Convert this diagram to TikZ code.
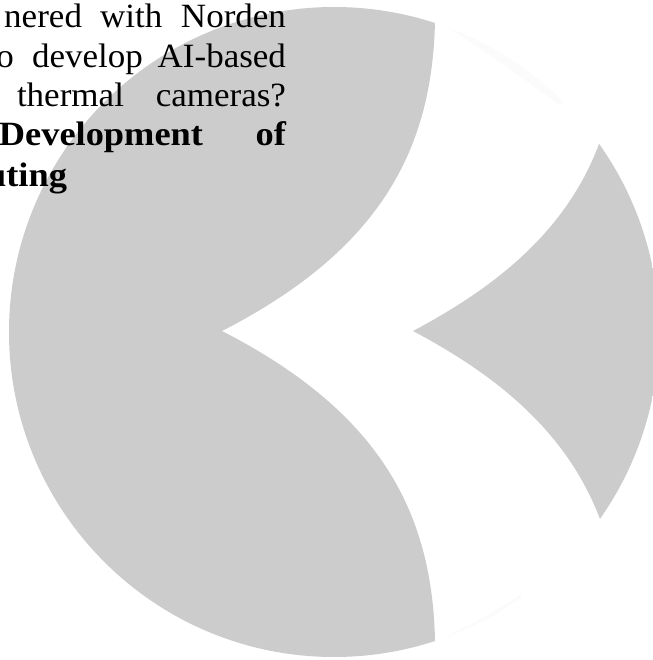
\documentclass[tikz,border=0pt]{standalone}
\usepackage{fontspec}
\setmainfont{Liberation Serif}[FakeStretch=1.03,BoldFeatures={FakeStretch=1.07}]
\definecolor{disc}{HTML}{CCCCCC}
\definecolor{trace}{HTML}{FBFBFB}
\tikzset{
  word/.style={inner sep=0pt,outer sep=0pt,text=black,font=\fontsize{34}{40}\selectfont},
  boldword/.style={word,font=\fontsize{34}{40}\selectfont\bfseries}
}
\begin{document}
\begin{tikzpicture}[x=1pt,y=-1pt]
\useasboundingbox (0,0) rectangle (652,660);
\begin{scope}
\clip (334,332) circle[radius=325];
\fill[trace] (435,20) .. controls (470,40) and (510,70) .. (560,105) -- (600,60) -- (450,0) -- cycle;
\fill[trace] (435,642) .. controls (470,625) and (490,615) .. (520,595) -- (560,640) -- (450,660) -- cycle;
\fill[disc] (435,22) .. controls (432,150) and (380,250) .. (222,331)
  .. controls (380,412) and (432,512) .. (435,640)
  -- (435,670) -- (0,670) -- (0,-10) -- (435,-10) -- cycle;
\fill[disc] (413,331) .. controls (490,290) and (565,235) .. (599,144)
  -- (700,144) -- (700,519) -- (600,519)
  .. controls (565,427) and (490,372) .. (413,331);
\end{scope}
\node[word,anchor=base east] (w1) at (82,28) {nered};
\node[word,anchor=base west] (w2) at (100,28) {with};
\node[word,anchor=base east] (w3) at (286,28) {Norden};
\node[word,anchor=base east] (w4) at (14,68) {o};
\node[word,anchor=base west] (w5) at (32,68) {develop};
\node[word,anchor=base east] (w6) at (286,68) {AI-based};
\node[word,anchor=base west] (w7) at (17,107) {thermal};
\node[word,anchor=base east] (w8) at (286,107) {cameras?};
\node[boldword,anchor=base east] (w9) at (203,146) {Development};
\node[boldword,anchor=base east] (w10) at (286,146) {of};
\node[boldword,anchor=base east] (w11) at (67,186) {uting};
\end{tikzpicture}
\end{document}
